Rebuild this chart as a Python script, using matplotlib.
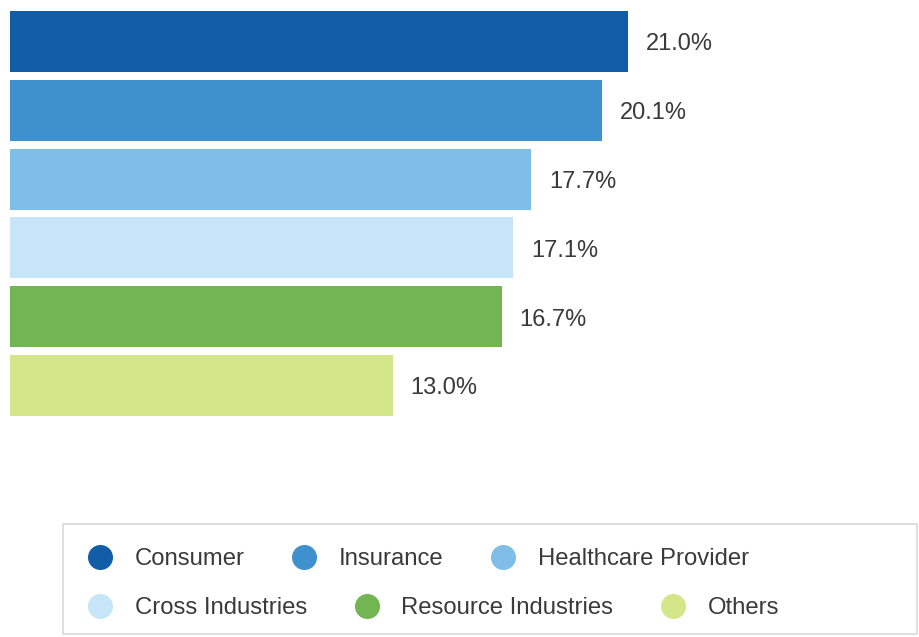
import matplotlib
matplotlib.use('Agg')
import matplotlib.pyplot as plt
from matplotlib.lines import Line2D
from matplotlib.patches import Rectangle

plt.rcParams['font.family'] = ['Liberation Sans', 'DejaVu Sans']

categories = ['Consumer', 'Insurance', 'Healthcare Provider', 'Cross Industries', 'Resource Industries', 'Others']
shares = [21.0, 20.1, 17.7, 17.1, 16.7, 13.0]
labels = ['21.0%', '20.1%', '17.7%', '17.1%', '16.7%', '13.0%']
colors = ['#125da8', '#3f91cd', '#7fbee6', '#c7e5f8', '#72b552', '#d5e68a']

W, H = 919, 637
fig = plt.figure(figsize=(W / 100, H / 100), dpi=100)
ax = fig.add_axes([10 / W, 1 - 420 / H, 883 / W, 413 / H])

ypos = list(range(len(categories)))
ax.barh(ypos, shares, height=0.885, color=colors)
for y, v, lab in zip(ypos, shares, labels):
    ax.annotate(lab, (v, y), xytext=(13, -2), textcoords='offset points',
                va='center', ha='left', fontsize=17, color='#3a3a3a')
ax.set_xlim(0, 30)
ax.set_ylim(5.5, -0.5)
ax.axis('off')

# legend frame
fig.patches.append(Rectangle((63 / W, 1 - 634 / H), 854 / W, 110 / H, transform=fig.transFigure,
                             facecolor='white', edgecolor='#d9d9d9', lw=1.2, zorder=0))

def handles(idx):
    return [Line2D([], [], ls='none', marker='o', markersize=17, markerfacecolor=colors[i],
                   markeredgecolor=colors[i]) for i in idx]

for idx, yy in [([0, 1, 2], 559), ([3, 4, 5], 608)]:
    leg = fig.legend(handles(idx), [categories[i] for i in idx], ncol=3, frameon=False,
                     loc='center left', bbox_to_anchor=(88 / W, 1 - yy / H), borderpad=0,
                     borderaxespad=0, handlelength=1.0, handletextpad=0.95, columnspacing=2.0,
                     fontsize=17.2, labelcolor='#3a3a3a')

fig.savefig('out.png', dpi=100)
